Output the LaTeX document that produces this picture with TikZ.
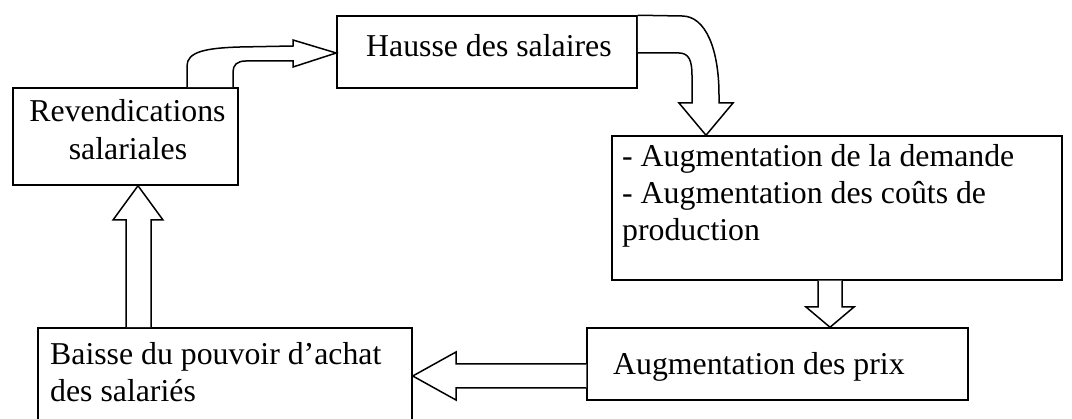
\documentclass[tikz,border=0pt]{standalone}
\usepackage{fontspec}
\setmainfont{Liberation Serif}
\begin{document}
\begin{tikzpicture}[x=1pt,y=-1pt,
  box/.style={draw, line width=1.5pt, rectangle, inner sep=0pt},
  txt/.style={anchor=base west, inner sep=0pt, font=\fontsize{31.8}{37}\selectfont},
  ctxt/.style={txt, anchor=base},
  blockarrow/.style={draw, fill=white, line width=1.5pt, line join=miter}]
\useasboundingbox (0,0) rectangle (1072,419);
\clip (0,0) rectangle (1072,419);
% boxes
\node[box, minimum width=225pt, minimum height=97pt] (rev) at (125.5,136.5) {};
\node[box, minimum width=300pt, minimum height=72pt] (hausse) at (487,52) {};
\node[box, minimum width=450pt, minimum height=144pt] (dem) at (837,208) {};
\node[box, minimum width=381pt, minimum height=72pt] (prix) at (777.5,364) {};
\node[box, minimum width=374pt, minimum height=102pt] (baisse) at (225,379) {};
% texts
\node[ctxt] (t1) at (127.5,122) {Revendications};
\node[ctxt] (t2) at (128,160) {salariales};
\node[txt] (t3) at (366,57) {Hausse des salaires};
\node[txt] (t4) at (622,167) {- Augmentation de la demande};
\node[txt] (t5) at (622,204) {- Augmentation des coûts de};
\node[txt] (t6) at (622,241) {production};
\node[txt] (t7) at (613,375) {Augmentation des prix};
\node[txt] (t8) at (50,365) {Baisse du pouvoir d’achat};
\node[txt] (t9) at (50,402) {des salariés};
% arrow rev -> hausse
\draw[blockarrow] (rev.north -| 187,0) -- (187,66) .. controls (187,52) and (205,48) .. (240,47)
  -- (293,46) -- (293,40) -- (hausse.west |- 0,53) -- (293,67) -- (293,61) -- (246,61)
  .. controls (237,61) and (233,65) .. (233,72) -- (rev.north -| 233,0);
% arrow hausse -> demande
\draw[blockarrow] (hausse.north east) -- (682,16) .. controls (706,16) and (719,50) .. (719,95)
  -- (719,103) -- (733,103) -- (dem.north -| 706,0) -- (679,103) -- (692,103) -- (692,75)
  .. controls (692,61) and (689,53) .. (679,53) -- (hausse.east |- 0,53);
% arrow demande -> prix
\draw[blockarrow] (dem.south -| 818,0) -- (818,307) -- (806,307) -- (prix.north -| 830,0)
  -- (854,307) -- (842,307) -- (dem.south -| 842,0);
% arrow prix -> baisse
\draw[blockarrow] (prix.west |- 0,364) -- (456,364) -- (456,352) -- (baisse.east |- 0,376)
  -- (456,400) -- (456,388) -- (prix.west |- 0,388);
% arrow baisse -> rev
\draw[blockarrow] (baisse.north -| 126,0) -- (126,220) -- (113,220) -- (rev.south -| 138,0)
  -- (163,220) -- (151,220) -- (baisse.north -| 151,0);
\end{tikzpicture}
\end{document}
